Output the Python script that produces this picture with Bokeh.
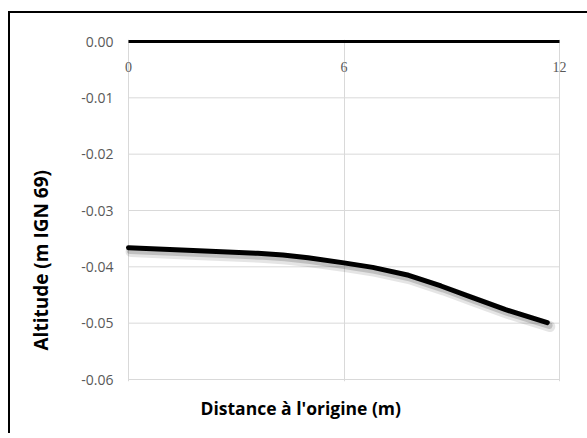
import math
from bokeh.plotting import figure
from bokeh.models import (ColumnDataSource, Range1d, FixedTicker, NumeralTickFormatter,
                          LabelSet, Title)
from bokeh.transform import dodge
from bokeh.embed import file_html
from bokeh.resources import INLINE

# ---- data ----
distance = [0.0, 1.8, 3.6, 4.3, 5.0, 6.0, 6.8, 7.8, 8.7, 9.6, 10.5, 11.66]
altitude = [-0.0366, -0.0371, -0.0376, -0.0379, -0.0384, -0.0393, -0.0401,
            -0.0415, -0.0434, -0.0455, -0.0476, -0.0499]

x_ticks = [0, 6, 12]
x_tick_labels = ["0", "6", "12"]
y_ticks = [0.0, -0.01, -0.02, -0.03, -0.04, -0.05, -0.06]

x_title = "Distance à l'origine (m)"
y_title = "Altitude (m IGN 69)"

FONT = "Open Sans"
GRAY = "#595959"
GRID = "#d9d9d9"

# pixel scale of the plot area: 12 m over 431 px, 0.06 m over 338 px
PX_X = 431 / 12.0
PX_Y = 338 / 0.06
x_lo, x_hi = x_ticks[0] - 10 / PX_X, x_ticks[-1] + 12 / PX_X
y_lo, y_hi = y_ticks[-1] - 2 / PX_Y, y_ticks[0] + 2 / PX_Y

p = figure(width=587, height=422, output_backend="svg", toolbar_location=None,
           x_range=Range1d(x_lo, x_hi), y_range=Range1d(y_lo, y_hi),
           x_axis_location=None,
           min_border_left=118, min_border_right=16, min_border_top=28,
           min_border_bottom=52)
# chart-area border (left and top edges) drawn behind a transparent border fill
p.styles = {"position": "relative", "top": "11px",
            "background-image": "linear-gradient(#000, #000), linear-gradient(#000, #000)",
            "background-repeat": "no-repeat",
            "background-size": "2px 100%, 100% 2px",
            "background-position": "8px 0px, 8px 0px"}
p.outline_line_color = None
p.background_fill_color = "white"
p.border_fill_color = None

ya = p.yaxis[0]
ya.ticker = FixedTicker(ticks=y_ticks)
ya.formatter = NumeralTickFormatter(format="0.00")
ya.axis_line_color = None
ya.major_tick_line_color = None
ya.minor_tick_line_color = None
ya.major_tick_out = 0
ya.major_tick_in = 0
ya.major_label_standoff = 5
ya.major_label_text_font = FONT
ya.major_label_text_font_size = "14px"
ya.major_label_text_color = GRAY

p.xgrid.ticker = FixedTicker(ticks=x_ticks)
p.xgrid.grid_line_color = GRID
p.xgrid.grid_line_width = 1
p.ygrid.visible = False

# horizontal gridlines spanning the x extent only
gsrc = ColumnDataSource(dict(y=y_ticks[1:], x0=[x_ticks[0]] * (len(y_ticks) - 1),
                             x1=[x_ticks[-1]] * (len(y_ticks) - 1)))
p.segment(x0="x0", x1="x1", y0="y", y1="y", source=gsrc,
          line_color=GRID, line_width=1)

# horizontal axis line crossing at y = 0
p.segment(x0=[x_ticks[0]], x1=[x_ticks[-1]], y0=[y_ticks[0]], y1=[y_ticks[0]],
          line_color="black", line_width=3)

src = ColumnDataSource(dict(x=distance, y=altitude))
# soft shadow
p.line(x=dodge("x", 0.07, range=p.x_range), y=dodge("y", -0.0007, range=p.y_range),
       source=src, line_color="#000000", line_alpha=0.10, line_width=11,
       line_join="round", line_cap="round")
p.line(x=dodge("x", 0.05, range=p.x_range), y=dodge("y", -0.0005, range=p.y_range),
       source=src, line_color="#000000", line_alpha=0.16, line_width=7,
       line_join="round", line_cap="round")
p.line(x="x", y="y", source=src, line_color="black", line_width=5,
       line_join="round", line_cap="round")

# x tick labels, drawn below the axis line (axis crosses at the top)
tsrc = ColumnDataSource(dict(x=x_ticks, y=[y_ticks[0]] * len(x_ticks), t=x_tick_labels))
p.add_layout(LabelSet(x="x", y="y", text="t", source=tsrc, y_offset=-25,
                      text_align="center", text_baseline="middle",
                      text_font=FONT, text_font_size="14px", text_color=GRAY))

p.add_layout(Title(text=x_title, align="left", offset=82, standoff=25,
                   text_font=FONT, text_font_size="17.5px", text_font_style="bold",
                   text_color="black"), "below")
p.add_layout(Title(text=y_title, align="left", offset=31, standoff=49,
                   text_font=FONT, text_font_size="19px", text_font_style="bold",
                   text_color="black"), "left")

open("out.html", "w").write(file_html(p, INLINE))
